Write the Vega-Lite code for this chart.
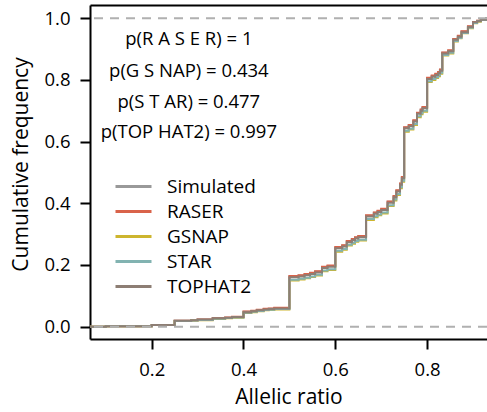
{
  "$schema": "https://vega.github.io/schema/vega-lite/v6.json",
  "width": 397,
  "height": 334,
  "autosize": {"type": "none"},
  "padding": {"left": 90, "top": 5, "right": 0, "bottom": 73},
  "config": {
    "font": "Open Sans",
    "view": {"stroke": null},
    "axis": {
      "grid": false,
      "domainColor": "black",
      "domainWidth": 2,
      "tickColor": "black",
      "tickWidth": 2,
      "tickSize": 10,
      "labelFont": "Open Sans",
      "labelFontSize": 18.5,
      "labelColor": "black",
      "titleFont": "Open Sans",
      "titleFontSize": 21,
      "titleFontWeight": "normal",
      "titleColor": "black"
    }
  },
  "layer": [
    {
      "data": {
        "values": [
          {"x": 0.0656, "Simulated": 0, "RASER": 0, "GSNAP": 0, "STAR": 0, "TOPHAT2": 0},
          {"x": 0.1, "Simulated": 0.001, "RASER": 0.001, "GSNAP": 0.001, "STAR": 0.001, "TOPHAT2": 0.001},
          {"x": 0.2, "Simulated": 0.005, "RASER": 0.005, "GSNAP": 0.005, "STAR": 0.005, "TOPHAT2": 0.005},
          {"x": 0.25, "Simulated": 0.019, "RASER": 0.019, "GSNAP": 0.018, "STAR": 0.018, "TOPHAT2": 0.019},
          {"x": 0.286, "Simulated": 0.021, "RASER": 0.021, "GSNAP": 0.02, "STAR": 0.02, "TOPHAT2": 0.021},
          {"x": 0.3, "Simulated": 0.023, "RASER": 0.023, "GSNAP": 0.021, "STAR": 0.022, "TOPHAT2": 0.023},
          {"x": 0.333, "Simulated": 0.027, "RASER": 0.028, "GSNAP": 0.025, "STAR": 0.026, "TOPHAT2": 0.027},
          {"x": 0.36, "Simulated": 0.029, "RASER": 0.03, "GSNAP": 0.027, "STAR": 0.028, "TOPHAT2": 0.029},
          {"x": 0.375, "Simulated": 0.031, "RASER": 0.032, "GSNAP": 0.029, "STAR": 0.03, "TOPHAT2": 0.031},
          {"x": 0.4, "Simulated": 0.048, "RASER": 0.049, "GSNAP": 0.044, "STAR": 0.045, "TOPHAT2": 0.047},
          {"x": 0.417, "Simulated": 0.051, "RASER": 0.052, "GSNAP": 0.047, "STAR": 0.048, "TOPHAT2": 0.05},
          {"x": 0.429, "Simulated": 0.054, "RASER": 0.055, "GSNAP": 0.05, "STAR": 0.051, "TOPHAT2": 0.053},
          {"x": 0.444, "Simulated": 0.057, "RASER": 0.058, "GSNAP": 0.053, "STAR": 0.054, "TOPHAT2": 0.056},
          {"x": 0.455, "Simulated": 0.058, "RASER": 0.059, "GSNAP": 0.054, "STAR": 0.055, "TOPHAT2": 0.057},
          {"x": 0.467, "Simulated": 0.06, "RASER": 0.061, "GSNAP": 0.056, "STAR": 0.057, "TOPHAT2": 0.059},
          {"x": 0.5, "Simulated": 0.163, "RASER": 0.164, "GSNAP": 0.15, "STAR": 0.152, "TOPHAT2": 0.16},
          {"x": 0.52, "Simulated": 0.166, "RASER": 0.167, "GSNAP": 0.153, "STAR": 0.155, "TOPHAT2": 0.163},
          {"x": 0.533, "Simulated": 0.17, "RASER": 0.171, "GSNAP": 0.157, "STAR": 0.159, "TOPHAT2": 0.167},
          {"x": 0.545, "Simulated": 0.174, "RASER": 0.175, "GSNAP": 0.161, "STAR": 0.163, "TOPHAT2": 0.171},
          {"x": 0.556, "Simulated": 0.179, "RASER": 0.18, "GSNAP": 0.166, "STAR": 0.168, "TOPHAT2": 0.176},
          {"x": 0.571, "Simulated": 0.193, "RASER": 0.194, "GSNAP": 0.18, "STAR": 0.182, "TOPHAT2": 0.19},
          {"x": 0.583, "Simulated": 0.197, "RASER": 0.198, "GSNAP": 0.184, "STAR": 0.186, "TOPHAT2": 0.194},
          {"x": 0.6, "Simulated": 0.257, "RASER": 0.258, "GSNAP": 0.243, "STAR": 0.246, "TOPHAT2": 0.254},
          {"x": 0.615, "Simulated": 0.263, "RASER": 0.264, "GSNAP": 0.249, "STAR": 0.252, "TOPHAT2": 0.26},
          {"x": 0.625, "Simulated": 0.277, "RASER": 0.278, "GSNAP": 0.263, "STAR": 0.266, "TOPHAT2": 0.274},
          {"x": 0.636, "Simulated": 0.283, "RASER": 0.284, "GSNAP": 0.269, "STAR": 0.272, "TOPHAT2": 0.28},
          {"x": 0.643, "Simulated": 0.289, "RASER": 0.29, "GSNAP": 0.275, "STAR": 0.278, "TOPHAT2": 0.286},
          {"x": 0.65, "Simulated": 0.293, "RASER": 0.294, "GSNAP": 0.279, "STAR": 0.282, "TOPHAT2": 0.29},
          {"x": 0.667, "Simulated": 0.36, "RASER": 0.361, "GSNAP": 0.346, "STAR": 0.349, "TOPHAT2": 0.357},
          {"x": 0.684, "Simulated": 0.369, "RASER": 0.37, "GSNAP": 0.355, "STAR": 0.358, "TOPHAT2": 0.366},
          {"x": 0.692, "Simulated": 0.375, "RASER": 0.376, "GSNAP": 0.361, "STAR": 0.364, "TOPHAT2": 0.372},
          {"x": 0.7, "Simulated": 0.381, "RASER": 0.382, "GSNAP": 0.367, "STAR": 0.37, "TOPHAT2": 0.378},
          {"x": 0.714, "Simulated": 0.405, "RASER": 0.406, "GSNAP": 0.391, "STAR": 0.394, "TOPHAT2": 0.402},
          {"x": 0.727, "Simulated": 0.423, "RASER": 0.424, "GSNAP": 0.409, "STAR": 0.412, "TOPHAT2": 0.42},
          {"x": 0.733, "Simulated": 0.441, "RASER": 0.442, "GSNAP": 0.427, "STAR": 0.43, "TOPHAT2": 0.438},
          {"x": 0.741, "Simulated": 0.463, "RASER": 0.464, "GSNAP": 0.449, "STAR": 0.452, "TOPHAT2": 0.46},
          {"x": 0.745, "Simulated": 0.484, "RASER": 0.485, "GSNAP": 0.47, "STAR": 0.473, "TOPHAT2": 0.481},
          {"x": 0.75, "Simulated": 0.646, "RASER": 0.647, "GSNAP": 0.632, "STAR": 0.635, "TOPHAT2": 0.643},
          {"x": 0.76, "Simulated": 0.653, "RASER": 0.654, "GSNAP": 0.639, "STAR": 0.642, "TOPHAT2": 0.65},
          {"x": 0.77, "Simulated": 0.668, "RASER": 0.669, "GSNAP": 0.654, "STAR": 0.657, "TOPHAT2": 0.665},
          {"x": 0.778, "Simulated": 0.693, "RASER": 0.694, "GSNAP": 0.679, "STAR": 0.682, "TOPHAT2": 0.69},
          {"x": 0.786, "Simulated": 0.703, "RASER": 0.704, "GSNAP": 0.689, "STAR": 0.692, "TOPHAT2": 0.7},
          {"x": 0.79, "Simulated": 0.711, "RASER": 0.712, "GSNAP": 0.697, "STAR": 0.7, "TOPHAT2": 0.708},
          {"x": 0.8, "Simulated": 0.806, "RASER": 0.807, "GSNAP": 0.793, "STAR": 0.796, "TOPHAT2": 0.803},
          {"x": 0.81, "Simulated": 0.813, "RASER": 0.814, "GSNAP": 0.8, "STAR": 0.803, "TOPHAT2": 0.81},
          {"x": 0.818, "Simulated": 0.819, "RASER": 0.82, "GSNAP": 0.806, "STAR": 0.809, "TOPHAT2": 0.816},
          {"x": 0.824, "Simulated": 0.825, "RASER": 0.826, "GSNAP": 0.812, "STAR": 0.815, "TOPHAT2": 0.822},
          {"x": 0.828, "Simulated": 0.833, "RASER": 0.834, "GSNAP": 0.82, "STAR": 0.823, "TOPHAT2": 0.83},
          {"x": 0.833, "Simulated": 0.888, "RASER": 0.889, "GSNAP": 0.879, "STAR": 0.881, "TOPHAT2": 0.886},
          {"x": 0.846, "Simulated": 0.895, "RASER": 0.896, "GSNAP": 0.886, "STAR": 0.888, "TOPHAT2": 0.893},
          {"x": 0.857, "Simulated": 0.932, "RASER": 0.933, "GSNAP": 0.925, "STAR": 0.926, "TOPHAT2": 0.93},
          {"x": 0.867, "Simulated": 0.942, "RASER": 0.943, "GSNAP": 0.935, "STAR": 0.936, "TOPHAT2": 0.94},
          {"x": 0.875, "Simulated": 0.957, "RASER": 0.958, "GSNAP": 0.951, "STAR": 0.952, "TOPHAT2": 0.955},
          {"x": 0.889, "Simulated": 0.973, "RASER": 0.974, "GSNAP": 0.968, "STAR": 0.969, "TOPHAT2": 0.972},
          {"x": 0.9, "Simulated": 0.988, "RASER": 0.988, "GSNAP": 0.984, "STAR": 0.985, "TOPHAT2": 0.987},
          {"x": 0.909, "Simulated": 0.992, "RASER": 0.992, "GSNAP": 0.989, "STAR": 0.99, "TOPHAT2": 0.991},
          {"x": 0.917, "Simulated": 0.996, "RASER": 0.996, "GSNAP": 0.994, "STAR": 0.994, "TOPHAT2": 0.995},
          {"x": 0.929, "Simulated": 1, "RASER": 1, "GSNAP": 1, "STAR": 1, "TOPHAT2": 1},
          {"x": 0.9305, "Simulated": 1, "RASER": 1, "GSNAP": 1, "STAR": 1, "TOPHAT2": 1}
        ]
      },
      "transform": [
        {"fold": ["Simulated", "RASER", "GSNAP", "STAR", "TOPHAT2"], "as": ["series", "y"]}
      ],
      "mark": {"type": "line", "interpolate": "step-after", "strokeWidth": 2, "clip": true},
      "encoding": {
        "x": {
          "field": "x", "type": "quantitative",
          "scale": {"domain": [0.0656, 0.9305], "nice": false, "zero": false},
          "axis": {"orient": "bottom", "title": "Allelic ratio", "values": [0.2, 0.4, 0.6, 0.8], "format": ".1f", "labelPadding": 11, "titlePadding": 8}
        },
        "y": {
          "field": "y", "type": "quantitative",
          "scale": {"domain": [-0.04, 1.043], "nice": false, "zero": false},
          "axis": {"title": "Cumulative frequency", "values": [0, 0.2, 0.4, 0.6, 0.8, 1], "format": ".1f", "labelPadding": 10, "titlePadding": 12, "titleY": 159}
        },
        "color": {
          "field": "series", "type": "nominal",
          "scale": {
            "domain": ["Simulated", "RASER", "GSNAP", "STAR", "TOPHAT2"],
            "range": ["#999999", "#D9634A", "#CDB52E", "#82B3B1", "#8D7E74"]
          },
          "legend": {
            "orient": "none", "legendX": 33, "legendY": 171, "title": null,
            "symbolType": "M-2,0H2", "symbolSize": 324, "symbolStrokeWidth": 3,
            "labelFontSize": 19, "labelColor": "black", "labelOffset": 23,
            "rowPadding": 4, "padding": 0
          }
        }
      }
    },
    {
      "data": {
        "values": [
          {"label": "p(R A S E R) = 1", "x": 0.281, "y": 0.933},
          {"label": "p(G S NAP) = 0.434", "x": 0.281, "y": 0.83},
          {"label": "p(S T AR) = 0.477", "x": 0.281, "y": 0.73},
          {"label": "p(TOP HAT2) = 0.997", "x": 0.281, "y": 0.63}
        ]
      },
      "mark": {"type": "text", "fontSize": 18.5, "align": "center", "baseline": "middle", "color": "black"},
      "encoding": {
        "x": {
          "field": "x", "type": "quantitative",
          "axis": {"orient": "top", "labels": false, "ticks": false, "title": null}
        },
        "y": {"field": "y", "type": "quantitative", "axis": {"title": "Cumulative frequency"}},
        "text": {"field": "label"}
      }
    },
    {
      "data": {"values": [{"y": 0}, {"y": 1}]},
      "mark": {"type": "rule", "color": "#B0B0B0", "strokeWidth": 2, "strokeDash": [9, 7]},
      "encoding": {
        "y": {"field": "y", "type": "quantitative", "axis": {"title": "Cumulative frequency"}}
      }
    }
  ],
  "resolve": {"axis": {"x": "independent"}}
}
